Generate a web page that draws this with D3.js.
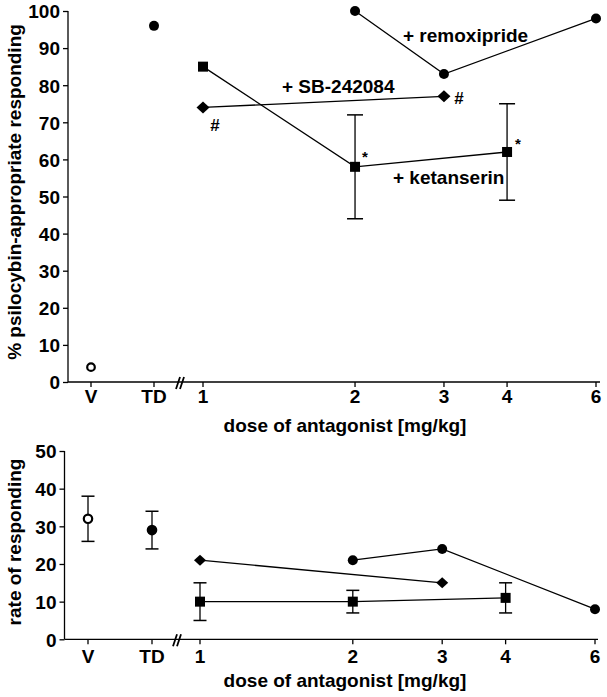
<!DOCTYPE html>
<html><head><meta charset="utf-8">
<script src="https://cdn.jsdelivr.net/npm/d3@7"></script>
<style>
html,body{margin:0;padding:0;background:#fff;}
text{font-family:"Liberation Sans",Arial,Helvetica,sans-serif;font-weight:bold;fill:#000;}
</style></head>
<body>
<svg id="chart" width="607" height="697"></svg>
<script>
// ---- data ----
const controlCats = ["V", "TD"];
const doseTicks = [1, 2, 3, 4, 6];
const yTicksTop = [0, 10, 20, 30, 40, 50, 60, 70, 80, 90, 100];
const yTicksBot = [0, 10, 20, 30, 40, 50];

// top panel: % psilocybin-appropriate responding
const ctrlTop = [4, 96];
const ketDoses = [1, 2, 4];
const ketTop = [85, 58, 62];
const ketTopErr = [0, 14, 13];
const sbDoses = [1, 3];
const sbTop = [74, 77];
const remDoses = [2, 3, 6];
const remTop = [100, 83, 98];

// bottom panel: rate of responding
const ctrlBot = [32, 29];
const ctrlBotErr = [6, 5];
const ketBot = [10, 10, 11];
const ketBotErr = [5, 3, 4];
const sbBot = [21, 15];
const remBot = [21, 24, 8];

const svg = d3.select("#chart");

function panel(cfg) {
  const g = svg.append("g");
  const y = d3.scaleLinear().domain([0, cfg.yMax]).range([cfg.y0, cfg.y1]);
  const x = d3.scaleLog().domain([1, 6]).range([cfg.xd1, cfg.xd6]);
  const xc = d3.scalePoint().domain(controlCats).range([cfg.xV, cfg.xTD]);

  // y axis
  const ya = g.append("g").attr("transform", `translate(${cfg.xAxis},0)`)
    .call(d3.axisLeft(y).tickValues(cfg.yTicks).tickSize(5).tickPadding(3).tickFormat(d3.format("d")));
  ya.select(".domain").attr("d", `M0,${cfg.y0}V${cfg.y1}`).attr("stroke-width", 1.3);
  ya.selectAll(".tick line").attr("stroke-width", 1.3);
  ya.selectAll("text").style("font-size", "19px").attr("dy", "0.36em");

  // x axis line
  g.append("line").attr("x1", cfg.xAxis).attr("x2", cfg.xEnd).attr("y1", cfg.y0).attr("y2", cfg.y0)
    .attr("stroke", "#000").attr("stroke-width", 1.3);
  // x ticks (controls + doses)
  const tks = controlCats.map(c => ({ px: xc(c), lab: c })).concat(doseTicks.map(d => ({ px: x(d), lab: String(d) })));
  tks.forEach(t => {
    g.append("line").attr("x1", t.px).attr("x2", t.px).attr("y1", cfg.y0).attr("y2", cfg.y0 + 5)
      .attr("stroke", "#000").attr("stroke-width", 1.3);
    g.append("text").attr("x", t.px).attr("y", cfg.y0 + cfg.tickOff).attr("text-anchor", "middle")
      .style("font-size", "19px").text(t.lab);
  });
  // axis break //
  [0, 4].forEach(o => {
    g.append("line").attr("x1", cfg.xBreak - 4 + o).attr("y1", cfg.y0 + 7)
      .attr("x2", cfg.xBreak + 0 + o).attr("y2", cfg.y0 - 5)
      .attr("stroke", "#000").attr("stroke-width", 1.8);
  });

  // axis titles
  g.append("text").attr("transform", `translate(${cfg.yTitleX},${cfg.yTitleY}) rotate(-90)`)
    .attr("text-anchor", "middle").style("font-size", "19px").text(cfg.yTitle);
  g.append("text").attr("x", 345).attr("y", cfg.xTitleY).attr("text-anchor", "middle")
    .style("font-size", "19px").text("dose of antagonist [mg/kg]");

  const line = d3.line().x(d => x(d[0])).y(d => y(d[1]));
  const seriesLine = (ds, vs) => g.append("path").datum(ds.map((d, i) => [d, vs[i]]))
    .attr("d", line).attr("fill", "none").attr("stroke", "#000").attr("stroke-width", 1.3);
  seriesLine(ketDoses, cfg.ket);
  seriesLine(sbDoses, cfg.sb);
  seriesLine(remDoses, cfg.rem);

  // error bars
  const errBar = (px, v, e, cap) => {
    if (!e) return;
    g.append("line").attr("x1", px).attr("x2", px).attr("y1", y(v - e)).attr("y2", y(v + e))
      .attr("stroke", "#000").attr("stroke-width", 1.3);
    [v - e, v + e].forEach(b => g.append("line").attr("x1", px - cap / 2).attr("x2", px + cap / 2)
      .attr("y1", y(b)).attr("y2", y(b)).attr("stroke", "#000").attr("stroke-width", 1.5));
  };
  ketDoses.forEach((d, i) => errBar(x(d), cfg.ket[i], cfg.ketErr[i], cfg.cap));
  if (cfg.ctrlErr) controlCats.forEach((c, i) => errBar(xc(c), cfg.ctrl[i], cfg.ctrlErr[i], cfg.cap));

  // markers
  g.append("circle").attr("cx", xc("V")).attr("cy", y(cfg.ctrl[0])).attr("r", cfg.openR)
    .attr("fill", "#fff").attr("stroke", "#000").attr("stroke-width", 2.2);
  g.append("circle").attr("cx", xc("TD")).attr("cy", y(cfg.ctrl[1])).attr("r", cfg.circR).attr("fill", "#000");
  ketDoses.forEach((d, i) => g.append("rect").attr("x", x(d) - cfg.sq / 2).attr("y", y(cfg.ket[i]) - cfg.sq / 2)
    .attr("width", cfg.sq).attr("height", cfg.sq).attr("fill", "#000"));
  sbDoses.forEach((d, i) => {
    const cx = x(d), cy = y(cfg.sb[i]), w = cfg.dw / 2, h = cfg.dh / 2;
    g.append("path").attr("d", `M${cx - w},${cy}L${cx},${cy - h}L${cx + w},${cy}L${cx},${cy + h}Z`).attr("fill", "#000");
  });
  remDoses.forEach((d, i) => g.append("circle").attr("cx", x(d)).attr("cy", y(cfg.rem[i]))
    .attr("r", cfg.remR).attr("fill", "#000"));
  return g;
}

const topPanel = panel({
  yMax: 100, y0: 382, y1: 11, yTicks: yTicksTop, xAxis: 68, xEnd: 600,
  xd1: 203, xd6: 596, xV: 91, xTD: 154, xBreak: 180, tickOff: 21,
  yTitle: "% psilocybin-appropriate responding", yTitleX: 21, yTitleY: 192, xTitleY: 432,
  ctrl: ctrlTop, ctrlErr: null, ket: ketTop, ketErr: ketTopErr, sb: sbTop, rem: remTop,
  cap: 16, openR: 3.8, circR: 5, sq: 10, dw: 13, dh: 12, remR: 5
});
// annotations top
topPanel.append("text").attr("x", 403).attr("y", 42).style("font-size", "19px").text("+ remoxipride");
topPanel.append("text").attr("x", 282).attr("y", 93).style("font-size", "19px").text("+ SB-242084");
topPanel.append("text").attr("x", 393).attr("y", 184).style("font-size", "19px").text("+ ketanserin");
topPanel.append("text").attr("x", 215).attr("y", 131).attr("text-anchor", "middle").style("font-size", "17px").text("#");
topPanel.append("text").attr("x", 459).attr("y", 104).attr("text-anchor", "middle").style("font-size", "17px").text("#");
topPanel.append("text").attr("x", 365).attr("y", 162).attr("text-anchor", "middle").style("font-size", "15px").text("*");
topPanel.append("text").attr("x", 518).attr("y", 149).attr("text-anchor", "middle").style("font-size", "15px").text("*");

const bottomPanel = panel({
  yMax: 50, y0: 639.3, y1: 451, yTicks: yTicksBot, xAxis: 64.5, xEnd: 598,
  xd1: 200, xd6: 595, xV: 88, xTD: 152, xBreak: 177, tickOff: 24,
  yTitle: "rate of responding", yTitleX: 21, yTitleY: 542, xTitleY: 687,
  ctrl: ctrlBot, ctrlErr: ctrlBotErr, ket: ketBot, ketErr: ketBotErr, sb: sbBot, rem: remBot,
  cap: 13, openR: 4.2, circR: 5.3, sq: 10, dw: 12, dh: 11, remR: 5
});
</script>
</body></html>
